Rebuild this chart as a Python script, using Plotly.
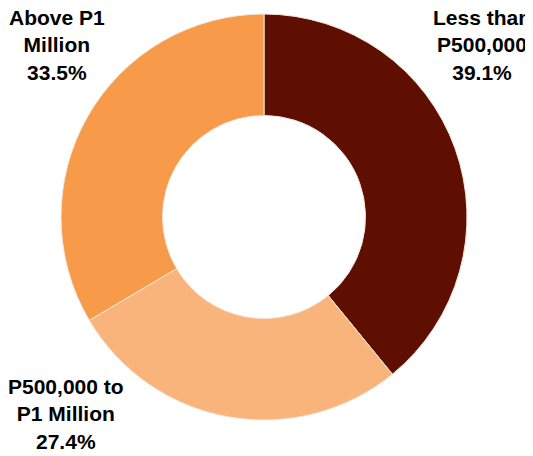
import plotly.graph_objects as go

categories = ["Less than P500,000", "P500,000 to P1 Million", "Above P1 Million"]
label_lines = ["Less than<br>P500,000", "P500,000 to<br>P1 Million", "Above P1<br>Million"]
values = [39.1, 27.4, 33.5]
colors = ["#5E0F02", "#F8B47A", "#F79A4A"]

W, H = 533, 456
OFF = 8  # page body margin offset

fig = go.Figure(go.Pie(
    labels=categories,
    values=values,
    sort=False,
    direction="clockwise",
    rotation=0,
    hole=0.5,
    marker=dict(colors=colors, line=dict(color="#F4E6DC", width=1)),
    textinfo="none",
    hoverinfo="label+percent",
    showlegend=False,
    domain=dict(x=[(61 - OFF)/W, (467 - OFF)/W],
                y=[1 - (420 - OFF)/H, 1 - (14 - OFF)/H]),
))

label_pos = [(482, 45), (66, 414), (57, 45)]
font = dict(family="Liberation Sans, Arial", size=21, color="#000000")
for txt, v, (px, py) in zip(label_lines, values, label_pos):
    fig.add_annotation(
        text=f"<b>{txt}<br>{v:.1f}%</b>",
        x=(px - OFF)/W, y=1 - (py - OFF)/H, xref="paper", yref="paper",
        showarrow=False, xanchor="center", yanchor="middle",
        font=font, align="center",
    )

fig.update_layout(
    width=W, height=H,
    margin=dict(l=0, r=0, t=0, b=0),
    paper_bgcolor="white", plot_bgcolor="white",
)
fig.write_html("out.html")
